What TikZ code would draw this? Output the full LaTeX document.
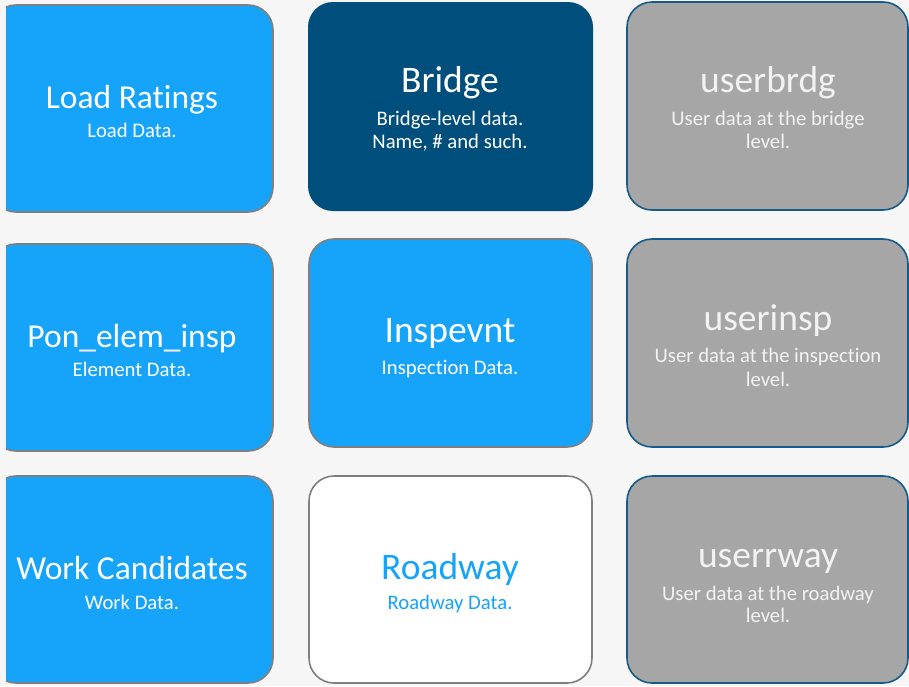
\documentclass[tikz,border=0pt]{standalone}
\usepackage{fontspec}
\setmainfont{Carlito}[Ligatures=NoCommon]
\definecolor{bgc}{HTML}{F6F6F6}
\definecolor{lblue}{HTML}{16A3FA}
\definecolor{dblue}{HTML}{004E7C}
\definecolor{gfill}{HTML}{A6A6A6}
\definecolor{gline}{HTML}{7F7F7F}
\definecolor{bline}{HTML}{165A8A}
\definecolor{offw}{HTML}{F2F2F2}
\begin{document}
\begin{tikzpicture}[x=1pt,y=-1pt,
  box/.style={rectangle, rounded corners=25pt, inner sep=0pt, line width=1.6pt},
  lbbox/.style={box, fill=lblue, draw=gline},
  dbbox/.style={box, fill=dblue},
  wbox/.style={box, fill=white, draw=gline},
  gbox/.style={box, fill=gfill, draw=bline},
  ttl/.style={anchor=base, inner sep=0pt, font=\fontsize{37.5}{40}\selectfont, text=white},
  ttlsm/.style={ttl, font=\fontsize{33.5}{36}\selectfont},
  sub/.style={anchor=base, inner sep=0pt, font=\fontsize{20.7}{24}\selectfont, text=white}
]
\useasboundingbox (0,0) rectangle (909,686);
\fill[bgc] (0,0) rectangle (909,686);
% column 1 (clipped at left)
\begin{scope}
\clip (6,-10) rectangle (920,700);
\node[lbbox, minimum width=282pt, minimum height=207pt] (loadbox) at (132,108.5) {};
\node[lbbox, minimum width=282pt, minimum height=207pt] (ponbox) at (132,347.5) {};
\node[lbbox, minimum width=282pt, minimum height=207pt] (workbox) at (132,579.5) {};
\end{scope}
% column 2
\node[dbbox, minimum width=285pt, minimum height=209pt] (bridgebox) at (450.5,106.5) {};
\node[lbbox, minimum width=283pt, minimum height=208pt] (inspbox) at (450.5,343) {};
\node[wbox, minimum width=283pt, minimum height=207pt] (roadbox) at (450.5,579.5) {};
% column 3
\node[gbox, minimum width=281pt, minimum height=208pt] (ubbox) at (767.5,106) {};
\node[gbox, minimum width=281pt, minimum height=208pt] (uibox) at (767.5,343) {};
\node[gbox, minimum width=281pt, minimum height=207pt] (urbox) at (767.5,579.5) {};
% texts column 1
\node[ttlsm] (loadt) at (132,108) {Load Ratings};
\node[sub] (loads) at (132,137) {Load Data.};
\node[ttlsm] (pont) at (132,347) {Pon\_elem\_insp};
\node[sub] (pons) at (132,376) {Element Data.};
\node[ttlsm] (workt) at (132,579) {Work Candidates};
\node[sub] (works) at (132,609) {Work Data.};
% texts column 2
\node[ttl] (bridget) at (450,92) {Bridge};
\node[sub] (bridges1) at (450,125) {Bridge-level data.};
\node[sub] (bridges2) at (450,148) {Name, \# and such.};
\node[ttl] (inspt) at (450,342) {Inspevnt};
\node[sub] (insps) at (450,374) {Inspection Data.};
\node[ttl, text=lblue] (roadt) at (450,579) {Roadway};
\node[sub, text=lblue] (roads) at (450,609) {Roadway Data.};
% texts column 3
\node[ttl, text=offw] (ubt) at (768,92) {userbrdg};
\node[sub, text=offw] (ubs1) at (768,125) {User data at the bridge};
\node[sub, text=offw] (ubs2) at (768,148) {level.};
\node[ttl, text=offw] (uit) at (768,330) {userinsp};
\node[sub, text=offw] (uis1) at (768,362) {User data at the inspection};
\node[sub, text=offw] (uis2) at (768,386) {level.};
\node[ttl, text=offw] (urt) at (768,567) {userrway};
\node[sub, text=offw] (urs1) at (768,600) {User data at the roadway};
\node[sub, text=offw] (urs2) at (768,622) {level.};
\end{tikzpicture}
\end{document}
